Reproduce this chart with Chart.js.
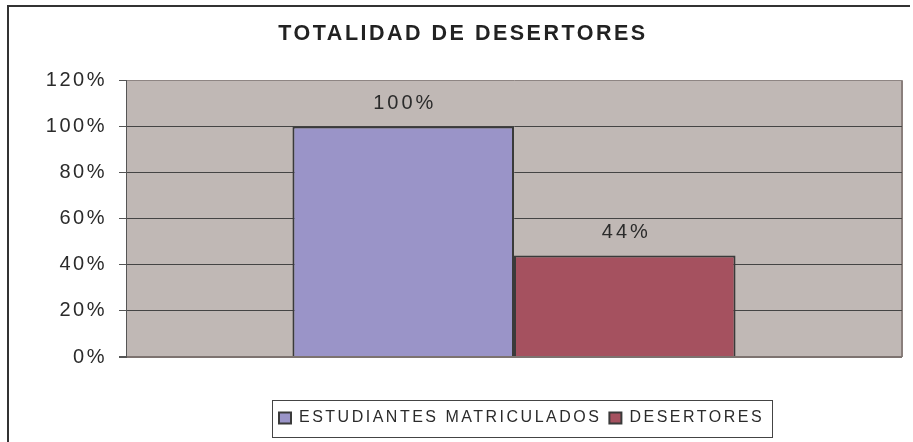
<!DOCTYPE html>
<html>
<head>
<meta charset="utf-8">
<script src="https://cdn.jsdelivr.net/npm/chart.js@4/dist/chart.umd.min.js"></script>
<style>
  html, body { margin: 0; padding: 0; background: #ffffff; }
  #wrap { width: 913px; height: 442px; position: relative; }
</style>
</head>
<body>
<div id="wrap"><canvas id="c" width="913" height="442"></canvas></div>
<script>
// ---- data ----
const categories = [''];
const seriesNames = ['ESTUDIANTES MATRICULADOS', 'DESERTORES'];
const matriculados = [1.00];
const desertores = [0.44];
const yTicksMin = 0;
const yTicksMax = 1.2;
const yTickStep = 0.2;
const chartTitle = 'TOTALIDAD DE DESERTORES';

const FONT = 'Liberation Sans, Arial, sans-serif';
const TEXT = '#2b2b2b';
const pct = v => Math.round(v * 100) + '%';

const spacingPlugin = {
  id: 'spacing',
  beforeUpdate(c) { c.ctx.letterSpacing = '2.5px'; },
  beforeLayout(c) { c.ctx.letterSpacing = '2.5px'; },
  beforeDraw(c) { c.ctx.letterSpacing = '2.5px'; }
};

const layoutPlugin = {
  id: 'layoutTweak',
  afterLayout(c) {
    const lg = c.legend;
    if (lg) {
      const h = lg.height;
      lg.left = 271;
      lg.top = 402;
      lg.bottom = lg.top + h;
    }
    const t = c.titleBlock;
    if (t) { t.left += 12; t.right += 12; }
  }
};

const backgroundPlugin = {
  id: 'plotBg',
  beforeDraw(c) {
    const ctx = c.ctx, a = c.chartArea;
    ctx.save();
    // outer frame (left and top only)
    ctx.strokeStyle = '#333333';
    ctx.lineWidth = 2;
    ctx.beginPath();
    ctx.moveTo(8, 442);
    ctx.lineTo(8, 6);
    ctx.lineTo(910, 6);
    ctx.stroke();
    // plot area fill
    ctx.fillStyle = '#C0B8B5';
    ctx.fillRect(a.left, a.top, a.right - a.left, a.bottom - a.top);
    // right edge shadow
    ctx.strokeStyle = '#8a7f7c';
    ctx.lineWidth = 2;
    ctx.beginPath();
    ctx.moveTo(a.right, a.top);
    ctx.lineTo(a.right, a.bottom);
    ctx.stroke();
    ctx.restore();
  },
  afterDraw(c) {
    const ctx = c.ctx, lg = c.legend;
    if (!lg || !lg.legendHitBoxes || !lg.legendHitBoxes.length) return;
    const hb = lg.legendHitBoxes;
    const first = hb[0], last = hb[hb.length - 1];
    const x0 = first.left - 7, x1 = last.left + last.width + 8;
    const y0 = first.top - 10, y1 = first.top + 27;
    ctx.save();
    ctx.strokeStyle = '#444444';
    ctx.lineWidth = 1;
    ctx.strokeRect(Math.round(x0) + 0.5, Math.round(y0) + 0.5, Math.round(x1 - x0), Math.round(y1 - y0));
    ctx.restore();
  }
};

const labelPlugin = {
  id: 'barLabels',
  afterDatasetsDraw(c) {
    const ctx = c.ctx;
    ctx.save();
    ctx.font = '20px ' + FONT;
    ctx.letterSpacing = '3px';
    ctx.fillStyle = TEXT;
    ctx.textAlign = 'center';
    ctx.textBaseline = 'middle';
    c.data.datasets.forEach((ds, i) => {
      const meta = c.getDatasetMeta(i);
      meta.data.forEach((bar, j) => {
        ctx.fillText(pct(ds.data[j]), bar.x + 1.5, bar.y - 23);
      });
    });
    ctx.restore();
  }
};

new Chart(document.getElementById('c'), {
  type: 'bar',
  data: {
    labels: categories,
    datasets: [
      {
        label: seriesNames[0],
        data: matriculados,
        backgroundColor: '#9A94C8',
        borderColor: '#3a3a3a',
        borderWidth: 2,
        barPercentage: 1.0,
        categoryPercentage: 0.571
      },
      {
        label: seriesNames[1],
        data: desertores,
        backgroundColor: '#A5515F',
        borderColor: '#3a3a3a',
        borderWidth: 2,
        barPercentage: 1.0,
        categoryPercentage: 0.571
      }
    ]
  },
  options: {
    responsive: false,
    animation: false,
    devicePixelRatio: 1,
    layout: { padding: { left: 0, right: 11, top: 0, bottom: 51 } },
    plugins: {
      title: {
        display: true,
        text: chartTitle,
        color: '#222222',
        font: { family: FONT, size: 21.5, weight: 'bold' },
        padding: { top: 21, bottom: 33.5 }
      },
      legend: {
        display: true,
        position: 'bottom',
        align: 'start',
        labels: {
          color: TEXT,
          font: { family: FONT, size: 16 },
          boxWidth: 12,
          boxHeight: 11,
          padding: 8
        }
      },
      tooltip: { enabled: false }
    },
    scales: {
      x: { display: false },
      y: {
        min: yTicksMin,
        max: yTicksMax,
        afterFit(scale) { scale.width = 126; },
        ticks: {
          stepSize: yTickStep,
          padding: 12,
          color: TEXT,
          font: { family: FONT, size: 20 },
          callback: v => pct(v)
        },
        grid: {
          tickLength: 7,
          tickColor: '#555555',
          color: ctx => {
            const v = ctx.tick ? ctx.tick.value : null;
            if (v !== null && Math.abs(v - yTicksMax) < 1e-6) return '#8e8583';
            if (v !== null && Math.abs(v) < 1e-6) return '#7d7370';
            return '#444444';
          },
          lineWidth: ctx => (ctx.tick && Math.abs(ctx.tick.value) < 1e-6) ? 2 : 1
        },
        border: { display: true, color: '#555555', width: 1 }
      }
    }
  },
  plugins: [spacingPlugin, layoutPlugin, backgroundPlugin, labelPlugin]
});
</script>
</body>
</html>
